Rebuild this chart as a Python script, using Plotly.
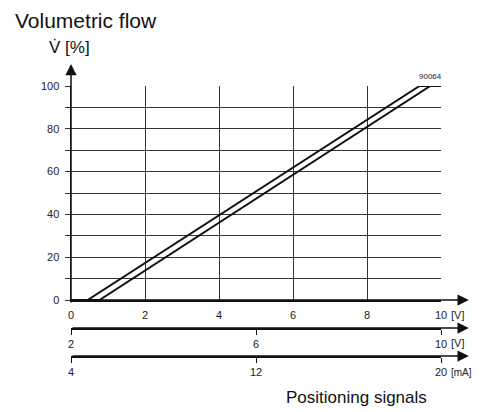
import plotly.graph_objects as go

# ---- data ----
signal_v = [0, 0.45, 9.42, 10]          # 0..10 V positioning signal (upper curve)
flow_upper = [0, 0, 100, 100]            # volumetric flow [%]
signal_v_lower = [0, 0.77, 9.71, 10]     # lower curve
flow_lower = [0, 0, 100, 100]

x_ticks = [0, 2, 4, 6, 8, 10]
x_tick_text = ["0", "2", "4", "6", "8", "10"]
v2_ticks = [0, 5, 10]
v2_tick_text = ["2", "6", "10"]
ma_ticks = [0, 5, 10]
ma_tick_text = ["4", "12", "20"]
y_ticks = [0, 10, 20, 30, 40, 50, 60, 70, 80, 90, 100]
y_tick_text = ["0", "", "20", "", "40", "", "60", "", "80", "", "100"]

FONT = "Arial, Liberation Sans, sans-serif"
INK = "#111111"

W, H = 491, 412
ML, MR, MT, MB = 71, 50, 86, 56
plot_h = H - MT - MB
y_zero_px = 300
ax2_px = 328
dom_bottom = (H - MB - y_zero_px) / plot_h
p2 = (H - MB - ax2_px) / plot_h

fig = go.Figure()
fig.add_trace(go.Scatter(x=signal_v, y=flow_upper, mode="lines",
                         line=dict(color=INK, width=2), showlegend=False, hoverinfo="skip"))
fig.add_trace(go.Scatter(x=signal_v_lower, y=flow_lower, mode="lines",
                         line=dict(color=INK, width=2), showlegend=False, hoverinfo="skip"))
# invisible carriers for the secondary signal axes
fig.add_trace(go.Scatter(x=[0, 10], y=[None, None], xaxis="x2", yaxis="y",
                         mode="lines", showlegend=False, hoverinfo="skip"))
fig.add_trace(go.Scatter(x=[0, 10], y=[None, None], xaxis="x3", yaxis="y",
                         mode="lines", showlegend=False, hoverinfo="skip"))

tickfont = dict(family=FONT, size=11, color="#222")

fig.update_layout(
    width=W, height=H,
    margin=dict(l=ML, r=MR, t=MT, b=MB),
    paper_bgcolor="white", plot_bgcolor="white",
    font=dict(family=FONT, color=INK),
    xaxis=dict(range=[0, 10], tickvals=x_ticks, ticktext=x_tick_text,
               showgrid=True, gridcolor="#333", gridwidth=1, zeroline=False,
               showline=True, linecolor=INK, linewidth=1.5,
               ticks="outside", ticklen=4, tickcolor="rgba(0,0,0,0)",
               tickfont=tickfont, anchor="y", fixedrange=True),
    xaxis2=dict(range=[0, 10], tickvals=v2_ticks, ticktext=v2_tick_text,
                overlaying="x", anchor="free", position=p2,
                showgrid=False, zeroline=False, showline=True, linecolor=INK, linewidth=1.5,
                ticks="outside", ticklen=5, tickcolor=INK, tickwidth=1,
                tickfont=tickfont, side="bottom", fixedrange=True),
    xaxis3=dict(range=[0, 10], tickvals=ma_ticks, ticktext=ma_tick_text,
                overlaying="x", anchor="free", position=0,
                showgrid=False, zeroline=False, showline=True, linecolor=INK, linewidth=1.5,
                ticks="outside", ticklen=5, tickcolor=INK, tickwidth=1,
                tickfont=tickfont, side="bottom", fixedrange=True),
    yaxis=dict(range=[0, 100], domain=[dom_bottom, 1], tickvals=y_ticks, ticktext=y_tick_text,
               showgrid=True, gridcolor="#333", gridwidth=1, zeroline=False,
               showline=True, linecolor=INK, linewidth=1.5,
               ticks="outside", ticklen=5, tickcolor="#333", ticklabelstandoff=3,
               tickfont=tickfont, fixedrange=True),
)


def px_to_paper_y(py):
    return (H - MB - py) / plot_h


def px_to_paper_x(px):
    return (px - ML) / (W - ML - MR)


ann = []
# axis arrows
arrow = dict(text="", showarrow=True, arrowhead=2, arrowsize=1.5, arrowwidth=1.5,
             arrowcolor=INK, standoff=0, startstandoff=0)
ann.append(dict(arrow, xref="x", yref="paper", x=0, y=px_to_paper_y(64), axref="x", ax=0,
                ay=(y_zero_px + 4) - 64))
ann.append(dict(arrow, xref="x", yref="y", x=10.75, y=0, axref="x", ayref="y", ax=0, ay=0))
ann.append(dict(arrow, xref="x", yref="paper", x=10.75, y=p2, axref="x", ax=0, ay=0))
ann.append(dict(arrow, xref="x", yref="paper", x=10.75, y=0, axref="x", ax=0, ay=0))

# unit labels next to the last ticks
unit_font = dict(family=FONT, size=11, color="#222")
ann.append(dict(text="[V]", xref="paper", yref="paper", x=px_to_paper_x(449), y=px_to_paper_y(315),
                xanchor="left", yanchor="middle", showarrow=False, font=unit_font))
ann.append(dict(text="[V]", xref="paper", yref="paper", x=px_to_paper_x(449), y=px_to_paper_y(343),
                xanchor="left", yanchor="middle", showarrow=False, font=unit_font))
ann.append(dict(text="[mA]", xref="paper", yref="paper", x=px_to_paper_x(449), y=px_to_paper_y(372),
                xanchor="left", yanchor="middle", showarrow=False, font=dict(family=FONT, size=10, color="#222")))
# titles
ann.append(dict(text="Volumetric flow", xref="paper", yref="paper", x=px_to_paper_x(13), y=px_to_paper_y(20),
                xanchor="left", yanchor="middle", showarrow=False, font=dict(family=FONT, size=21, color=INK)))
ann.append(dict(text="V\u0307\u00a0[%]", xref="paper", yref="paper", x=px_to_paper_x(47), y=px_to_paper_y(47),
                xanchor="left", yanchor="middle", showarrow=False, font=dict(family=FONT, size=17, color=INK)))
ann.append(dict(text="Positioning signals", xref="paper", yref="paper", x=px_to_paper_x(429), y=px_to_paper_y(398),
                xanchor="right", yanchor="middle", showarrow=False, font=dict(family=FONT, size=17, color=INK)))
ann.append(dict(text="90064", xref="paper", yref="paper", x=px_to_paper_x(444), y=px_to_paper_y(76),
                xanchor="right", yanchor="middle", showarrow=False, font=dict(family=FONT, size=8, color="#222")))

fig.update_layout(annotations=ann)
fig.write_html("out.html", config={"displayModeBar": False, "staticPlot": True},
               post_script="document.body.style.margin='0';document.body.style.overflow='hidden';")
